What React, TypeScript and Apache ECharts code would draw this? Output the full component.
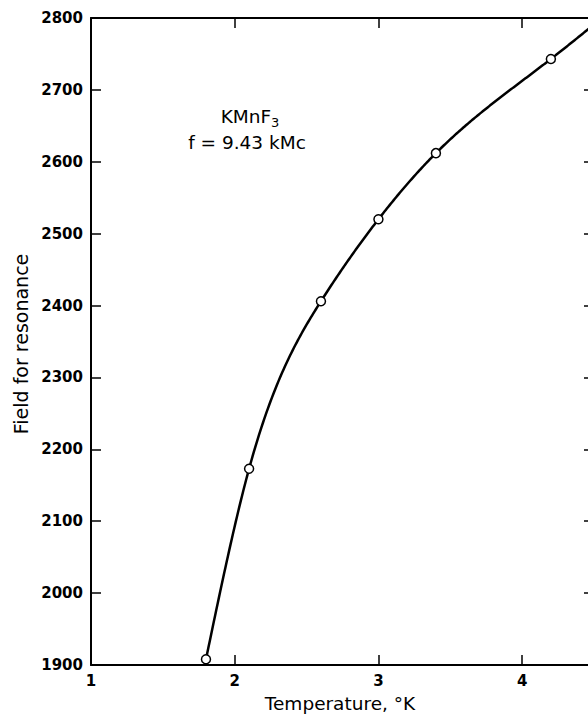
import React, { useEffect, useRef } from "react";
import * as echarts from "echarts";

const temperature = [1.8, 2.1, 2.6, 3.0, 3.4, 4.2];
const field = [1908, 2173, 2406, 2520, 2612, 2743];
// curve continues past the last measured point to the (cut-off) right edge
const curveEndT = 4.5;
const curveEndField = 2791;
const yTicks = [1900, 2000, 2100, 2200, 2300, 2400, 2500, 2600, 2700, 2800];
const xTicks = [1, 2, 3, 4];

const FONT = "DejaVu Sans";

// natural cubic spline coefficients (second derivatives) for drawing the smooth curve
function splineM(xs: number[], ys: number[]): number[] {
  const n = xs.length;
  const h: number[] = [];
  for (let i = 0; i < n - 1; i++) h.push(xs[i + 1] - xs[i]);
  const a: number[] = new Array(n).fill(0);
  const b: number[] = new Array(n).fill(1);
  const c: number[] = new Array(n).fill(0);
  const d: number[] = new Array(n).fill(0);
  for (let i = 1; i < n - 1; i++) {
    a[i] = h[i - 1];
    b[i] = 2 * (h[i - 1] + h[i]);
    c[i] = h[i];
    d[i] = 6 * ((ys[i + 1] - ys[i]) / h[i] - (ys[i] - ys[i - 1]) / h[i - 1]);
  }
  // Thomas algorithm
  const cp = new Array(n).fill(0);
  const dp = new Array(n).fill(0);
  cp[0] = c[0] / b[0];
  dp[0] = d[0] / b[0];
  for (let i = 1; i < n; i++) {
    const m = b[i] - a[i] * cp[i - 1];
    cp[i] = c[i] / m;
    dp[i] = (d[i] - a[i] * dp[i - 1]) / m;
  }
  const M = new Array(n).fill(0);
  M[n - 1] = dp[n - 1];
  for (let i = n - 2; i >= 0; i--) M[i] = dp[i] - cp[i] * M[i + 1];
  return M;
}

function splineEval(xs: number[], ys: number[], M: number[], x: number): number {
  let i = 0;
  while (i < xs.length - 2 && x > xs[i + 1]) i++;
  const h = xs[i + 1] - xs[i];
  const A = (xs[i + 1] - x) / h;
  const B = (x - xs[i]) / h;
  return (
    A * ys[i] +
    B * ys[i + 1] +
    ((A * A * A - A) * M[i] + (B * B * B - B) * M[i + 1]) * (h * h) / 6
  );
}

export default function App() {
  const ref = useRef<HTMLDivElement>(null);
  useEffect(() => {
    if (!ref.current) return;
    const chart = echarts.init(ref.current, null, { renderer: "svg" });
    const points = temperature.map((t, i) => [t, field[i]]);
    const xs = [...temperature, curveEndT];
    const ys = [...field, curveEndField];
    const curve = xs.map((x, i) => [x, ys[i]]);
    const M = splineM(xs, ys);

    const axisLine = { show: true, lineStyle: { color: "#000", width: 2 } };
    const tick = { show: true, inside: true, length: 10, lineStyle: { color: "#000", width: 1.5 } };
    const tickLabel = {
      color: "#000",
      fontFamily: FONT,
      fontSize: 15,
      fontWeight: "bold",
    };
    chart.setOption({
      animation: false,
      backgroundColor: "#fff",
      grid: { left: 91, right: 6, top: 18, bottom: 50, containLabel: false },
      xAxis: [
        {
          type: "value",
          min: 1,
          max: 4.5,
          interval: 1,
          position: "bottom",
          axisLine,
          axisTick: tick,
          splitLine: { show: false },
          axisLabel: {
            ...tickLabel,
            margin: 8,
            formatter: (v: number) => (xTicks.includes(v) ? String(v) : ""),
          },
        },
        {
          type: "value",
          min: 1,
          max: 4.5,
          interval: 1,
          position: "top",
          axisLine,
          axisTick: tick,
          splitLine: { show: false },
          axisLabel: { show: false },
        },
      ],
      yAxis: [
        {
          type: "value",
          min: 1900,
          max: 2800,
          interval: 100,
          position: "left",
          axisLine,
          axisTick: tick,
          splitLine: { show: false },
          axisLabel: {
            ...tickLabel,
            margin: 8,
            formatter: (v: number) => (yTicks.includes(v) ? String(v) : ""),
          },
        },
        {
          type: "value",
          min: 1900,
          max: 2800,
          interval: 100,
          position: "right",
          axisLine,
          axisTick: tick,
          splitLine: { show: false },
          axisLabel: { show: false },
        },
      ],
      series: [
        {
          type: "custom",
          data: curve,
          z: 2,
          renderItem: (params: any, api: any) => {
            if (params.dataIndex !== 0) return null;
            const pts: number[][] = [];
            const x0 = xs[0];
            const x1 = xs[xs.length - 1];
            const N = 300;
            for (let k = 0; k <= N; k++) {
              const x = x0 + ((x1 - x0) * k) / N;
              pts.push(api.coord([x, splineEval(xs, ys, M, x)]));
            }
            return {
              type: "polyline",
              shape: { points: pts },
              style: { stroke: "#000", lineWidth: 2.5, fill: null, lineJoin: "round" },
            };
          },
        },
        {
          type: "scatter",
          data: points,
          symbol: "circle",
          symbolSize: 9,
          itemStyle: { color: "#fff", borderColor: "#000", borderWidth: 1.5, opacity: 1 },
          z: 3,
        },
      ],
      graphic: [
        {
          type: "text",
          x: 340,
          y: 703,
          style: {
            text: "Temperature, °K",
            fontFamily: FONT,
            fontSize: 18.5,
            fill: "#000",
            align: "center",
            verticalAlign: "middle",
          },
        },
        {
          type: "text",
          x: 21,
          y: 344,
          rotation: Math.PI / 2,
          style: {
            text: "Field for resonance",
            fontFamily: FONT,
            fontSize: 19,
            fill: "#000",
            align: "center",
            verticalAlign: "middle",
          },
        },
        {
          type: "text",
          x: 250,
          y: 116,
          style: {
            text: "{a|KMnF}{s|3}",
            align: "center",
            verticalAlign: "middle",
            rich: {
              a: { fontFamily: FONT, fontSize: 18.5, fill: "#000" },
              s: { fontFamily: FONT, fontSize: 13, fill: "#000", padding: [12, 0, 0, 0] },
            },
          },
        },
        {
          type: "text",
          x: 247,
          y: 142.5,
          style: {
            text: "f = 9.43 kMc",
            fontFamily: FONT,
            fontSize: 18.5,
            fill: "#000",
            align: "center",
            verticalAlign: "middle",
          },
        },
      ],
    });
    return () => chart.dispose();
  }, []);
  return (
    <div
      style={{
        position: "absolute",
        left: 0,
        top: 0,
        width: 588,
        height: 715,
        overflow: "hidden",
        background: "#fff",
      }}
    >
      <div ref={ref} style={{ width: 600, height: 715 }} />
    </div>
  );
}
